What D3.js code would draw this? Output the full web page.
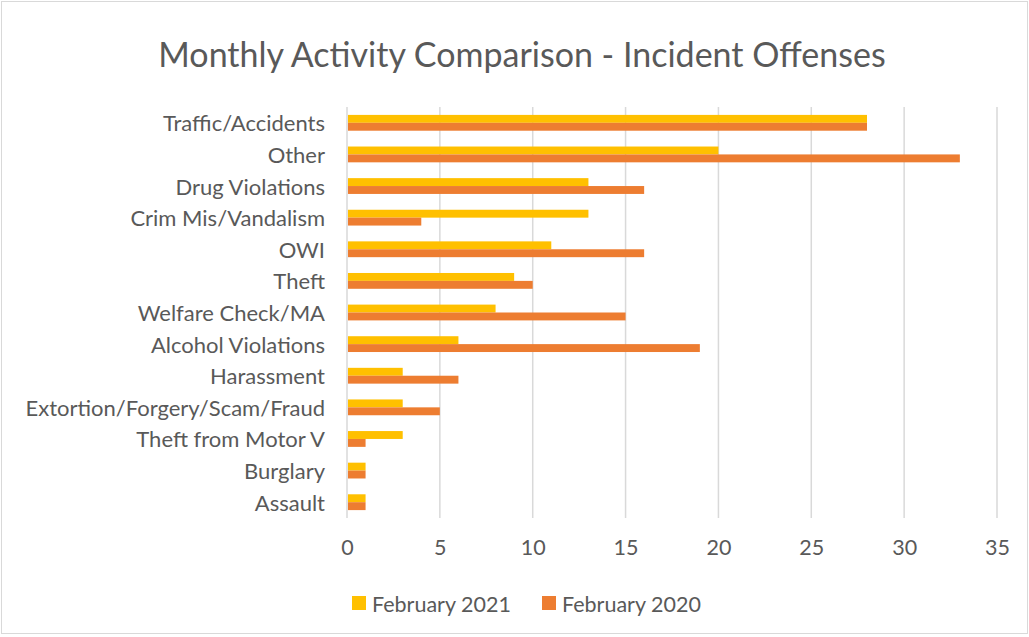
<!DOCTYPE html>
<html>
<head>
<meta charset="utf-8">
<script src="https://cdn.jsdelivr.net/npm/d3@7"></script>
<style>
  body { margin: 0; background: #fff; }
  svg { display: block; font-family: Lato, "Open Sans", sans-serif; }
</style>
</head>
<body>
<div id="chart"></div>
<script>
const categories = ["Traffic/Accidents", "Other", "Drug Violations", "Crim Mis/Vandalism", "OWI", "Theft",
    "Welfare Check/MA", "Alcohol Violations", "Harassment", "Extortion/Forgery/Scam/Fraud",
    "Theft from Motor V", "Burglary", "Assault"];
const feb2021 = [28, 20, 13, 13, 11, 9, 8, 6, 3, 3, 3, 1, 1];
const feb2020 = [28, 33, 16, 4, 16, 10, 15, 19, 6, 5, 1, 1, 1];
const seriesNames = ["February 2021", "February 2020"];
const seriesColors = ["#FFC000", "#ED7D31"];
const xTicks = [0, 5, 10, 15, 20, 25, 30, 35];

const width = 1029, height = 637;
const margin = { top: 107, left: 347, right: 32, bottom: 119 };
const fontSize = "21.5px";

const svg = d3.select("#chart").append("svg")
    .attr("width", width)
    .attr("height", height);

svg.append("rect")
    .attr("x", 1.5).attr("y", 1.5)
    .attr("width", width - 3).attr("height", height - 5)
    .attr("fill", "#fff")
    .attr("stroke", "#D9D9D9");

svg.append("text")
    .attr("x", 522)
    .attr("y", 67)
    .attr("text-anchor", "middle")
    .style("font-size", "34px")
    .style("fill", "#595959")
    .text("Monthly Activity Comparison - Incident Offenses");

const x = d3.scaleLinear().domain([0, 35]).range([margin.left, width - margin.right]);
const y = d3.scaleBand().domain(categories).range([margin.top, height - margin.bottom]);
const inner = d3.scaleBand().domain(seriesNames).range([y.bandwidth() * 0.25, y.bandwidth() * 0.75]);

// grid
svg.append("g")
    .selectAll("line")
    .data(xTicks)
    .enter()
    .append("line")
    .attr("x1", d => x(d)).attr("x2", d => x(d))
    .attr("y1", margin.top).attr("y2", height - margin.bottom)
    .attr("stroke", "#D9D9D9")
    .attr("stroke-width", 1.5);

const rows = categories.map((c, i) => ({ cat: c, vals: [feb2021[i], feb2020[i]] }));

const groups = svg.append("g")
    .selectAll("g")
    .data(rows)
    .enter()
    .append("g")
    .attr("transform", d => `translate(0,${y(d.cat)})`);

groups.selectAll("rect")
    .data(d => d.vals.map((v, j) => ({ name: seriesNames[j], v: v, color: seriesColors[j] })))
    .enter()
    .append("rect")
    .attr("x", x(0) + 1)
    .attr("y", d => inner(d.name))
    .attr("width", d => x(d.v) - x(0) - 1)
    .attr("height", inner.bandwidth())
    .attr("fill", d => d.color);

// category labels
svg.append("g")
    .selectAll("text")
    .data(categories)
    .enter()
    .append("text")
    .attr("x", margin.left - 22)
    .attr("y", d => y(d) + y.bandwidth() / 2)
    .attr("text-anchor", "end")
    .attr("dominant-baseline", "central")
    .style("font-size", "22px")
    .style("fill", "#595959")
    .text(d => d);

// x tick labels
const xAxis = d3.axisBottom(x).tickValues(xTicks).tickSize(0).tickPadding(0);
const ax = svg.append("g")
    .attr("transform", `translate(0,${height - margin.bottom + 22})`)
    .call(xAxis);
ax.select(".domain").remove();
ax.selectAll("text")
    .attr("dy", "0.71em")
    .style("font-family", "Lato, 'Open Sans', sans-serif")
    .style("font-size", fontSize)
    .style("fill", "#595959");

// legend
const legend = svg.append("g").attr("transform", "translate(352,603)");
const legX = [0, 190];
seriesNames.forEach((n, j) => {
    const g = legend.append("g").attr("transform", `translate(${legX[j]},0)`);
    g.append("rect")
        .attr("x", 0).attr("y", -7)
        .attr("width", 14).attr("height", 14)
        .attr("fill", seriesColors[j]);
    g.append("text")
        .attr("x", 20)
        .attr("y", 1)
        .attr("dominant-baseline", "central")
        .style("font-size", fontSize)
        .style("fill", "#595959")
        .text(n);
});
</script>
</body>
</html>
